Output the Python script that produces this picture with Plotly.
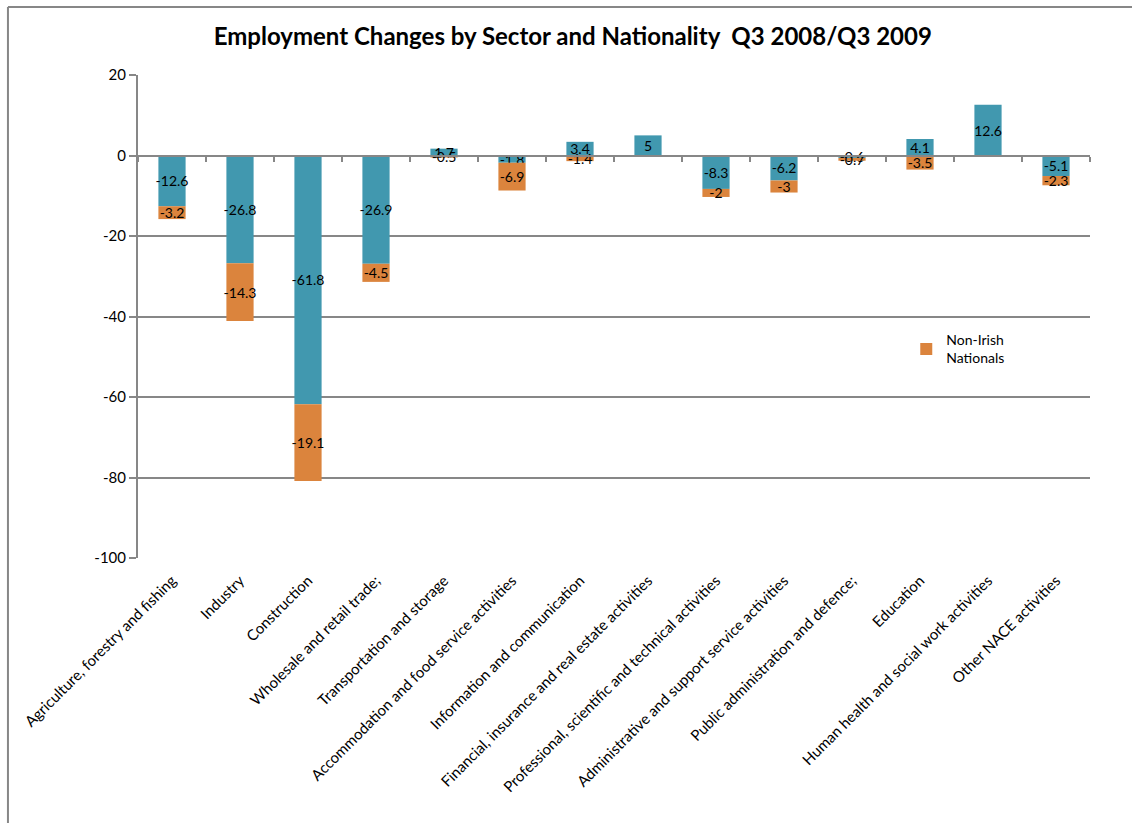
import plotly.graph_objects as go

# Employment change (thousands), Q3 2008 to Q3 2009
sectors = [
    "Agriculture, forestry and fishing",
    "Industry",
    "Construction",
    "Wholesale and retail trade;",
    "Transportation and storage",
    "Accommodation and food service activities",
    "Information and communication",
    "Financial, insurance and real estate activities",
    "Professional, scientific and technical activities",
    "Administrative and support service activities",
    "Public administration and defence;",
    "Education",
    "Human health and social work activities",
    "Other NACE activities",
]
irish = [-12.6, -26.8, -61.8, -26.9, 1.7, -1.8, 3.4, 5, -8.3, -6.2, -0.6, 4.1, 12.6, -5.1]
non_irish = [-3.2, -14.3, -19.1, -4.5, -0.5, -6.9, -1.4, None, -2, -3, -0.7, -3.5, None, -2.3]
y_ticks = [20, 0, -20, -40, -60, -80, -100]

BLUE = "#4198AF"
ORANGE = "#DB843D"
GRID = "#878787"
FONT = "Lato, Carlito, Calibri, sans-serif"


def fmt(v):
    return "" if v is None else f"{v:g}"


fig = go.Figure()
fig.add_trace(go.Bar(
    x=sectors, y=irish, name="Irish Nationals", showlegend=False,
    marker=dict(color=BLUE, line=dict(width=0)),
    text=[fmt(v) for v in irish], textposition="inside",
    insidetextanchor="middle", textangle=0,
    textfont=dict(color="black", size=14, family=FONT),
))
fig.add_trace(go.Bar(
    x=sectors, y=non_irish, name="Non-Irish<br>Nationals",
    marker=dict(color=ORANGE, line=dict(width=0)),
    text=[fmt(v) for v in non_irish], textposition="inside",
    insidetextanchor="middle", textangle=0,
    textfont=dict(color="black", size=14, family=FONT),
))

# zero line with category-boundary tick marks
fig.add_trace(go.Scatter(x=sectors, y=[0] * len(sectors), xaxis="x2",
                         mode="lines", line=dict(width=0), hoverinfo="skip",
                         showlegend=False))

# chart frame: top and left edges
frame_left, frame_top = -0.1366, 1.1408
frame = [
    dict(type="line", xref="paper", yref="paper", x0=frame_left, x1=1.5,
         y0=frame_top, y1=frame_top, line=dict(color=GRID, width=2), layer="below"),
    dict(type="line", xref="paper", yref="paper", x0=frame_left, x1=frame_left,
         y0=frame_top, y1=-0.8, line=dict(color=GRID, width=2), layer="below"),
]

fig.update_layout(
    width=1132, height=823,
    margin=dict(l=138, r=42, t=75, b=265),
    paper_bgcolor="white", plot_bgcolor="white",
    barmode="relative", bargap=0.6,
    font=dict(family=FONT, size=14, color="black"),
    uniformtext=dict(minsize=14, mode="show"),
    title=dict(text="<b>Employment Changes by Sector and Nationality  Q3 2008/Q3 2009</b>",
               x=0.506, xanchor="center", y=0.955, yanchor="middle",
               font=dict(size=24, family=FONT, color="black")),
    xaxis=dict(type="category", tickangle=-45, showgrid=False, showline=False,
               ticks="", zeroline=False, ticklabelstandoff=10,
               tickfont=dict(size=15, family=FONT)),
    xaxis2=dict(type="category", overlaying="x", anchor="free", position=100 / 120,
                side="bottom", showline=True, linecolor=GRID, linewidth=2,
                ticks="outside", tickson="boundaries", ticklen=5,
                tickcolor=GRID, tickwidth=2, showticklabels=False,
                showgrid=False, zeroline=False, matches="x"),
    yaxis=dict(range=[-100, 20], tickvals=y_ticks,
               ticktext=[str(v) for v in y_ticks],
               showgrid=True, gridcolor=GRID,
               gridwidth=2, zeroline=False, showline=True, linecolor=GRID,
               linewidth=2, ticks="outside", ticklen=7, tickcolor=GRID,
               tickwidth=2, tickfont=dict(size=15, family=FONT)),
    legend=dict(x=0.807, y=0.484, xanchor="left", yanchor="top",
                bgcolor="rgba(0,0,0,0)", font=dict(size=14, family=FONT),
                itemwidth=30),
    shapes=frame,
)

fig.write_html("out.html")
